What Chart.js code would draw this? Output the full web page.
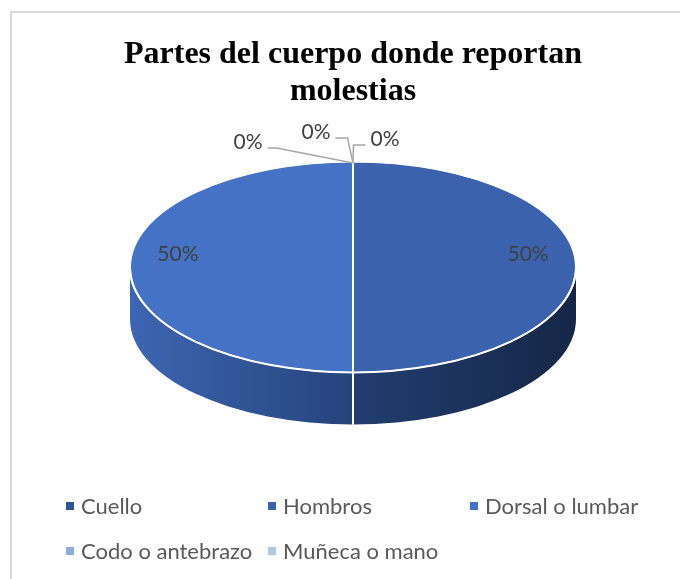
<!DOCTYPE html>
<html><head><meta charset="utf-8">
<script src="https://cdn.jsdelivr.net/npm/chart.js@4/dist/chart.umd.min.js"></script>
<style>
html,body{margin:0;padding:0;background:#fff;overflow:hidden;}
#wrap{position:relative;width:680px;height:579px;overflow:hidden;}
#frame{position:absolute;left:10px;top:11px;width:720px;height:620px;border-left:2px solid #d9d9d9;border-top:2px solid #d9d9d9;}
canvas{position:absolute;left:0;top:0;}
#legend{position:absolute;left:66px;top:494px;display:grid;grid-template-columns:202px 202px 210px;row-gap:21px;font-family:Lato,'Liberation Sans',sans-serif;font-size:22px;line-height:24px;color:#595959;}
#legend .it{display:flex;align-items:center;white-space:nowrap;}
#legend .mk{width:8px;height:8px;margin-right:7px;flex:none;}
</style>
</head><body>
<div id="wrap">
<div id="frame"></div>
<canvas id="c" width="680" height="579"></canvas>
<div id="legend"></div>
</div>
<script>
// ---- data ----
const TITLE_LINES = ['Partes del cuerpo donde reportan', 'molestias'];
const CATEGORIES = ['Cuello', 'Hombros', 'Dorsal o lumbar', 'Codo o antebrazo', 'Muñeca o mano'];
const VALUES = [0, 50, 50, 0, 0];

// ---- styles ----
const COLORS = ['#2f5597', '#3a62ad', '#4472c4', '#8faadc', '#b4c7e7'];
const SIDE_LEFT = ['#1f3864', '#223d70', '#3d66b2', '#6f8fca', '#9db3da'];
const SIDE_RIGHT = ['#172a4c', '#152747', '#25437b', '#4f6da5', '#7f97c2'];
const RADIUS = 223;
const TILT = 0.472;
const DEPTH = 52;
const LABEL_R = 0.785;
const LABEL_DY = -13;
// zero-value label placement (text centre offset from anchor, elbow length)
const ZERO_POS = {0: [32, -23, 12], 3: [-105, -20, 9], 4: [-37, -30, 12]};

const legendEl = document.getElementById('legend');
CATEGORIES.forEach((c, i) => {
  const d = document.createElement('div'); d.className = 'it';
  const m = document.createElement('span'); m.className = 'mk'; m.style.background = COLORS[i];
  const t = document.createElement('span'); t.textContent = c;
  d.appendChild(m); d.appendChild(t); legendEl.appendChild(d);
});

function pct(v) {
  const tot = VALUES.reduce((a, b) => a + b, 0);
  return Math.round(v / tot * 100) + '%';
}

const pie3d = {
  id: 'pie3d',
  beforeDatasetsDraw(chart) {
    const meta = chart.getDatasetMeta(0);
    const a0 = meta.data[0];
    const R = a0.outerRadius, ox = a0.x, oy = a0.y;
    const ca = chart.chartArea;
    const cx = ox, ry = R * TILT;
    const cy = (ca.top + ca.bottom) / 2 - DEPTH / 2;
    chart.$p3 = {cx, cy, R, ry, ox, oy};
    const ctx = chart.ctx;
    ctx.save();
    meta.data.forEach((arc, i) => {
      [0, -2 * Math.PI].forEach(shift => {
        const s = Math.max(arc.startAngle + shift, 0);
        const e = Math.min(arc.endAngle + shift, Math.PI);
        if (e - s <= 1e-4) return;
        const xl = cx + R * Math.cos(e), xr = cx + R * Math.cos(s);
        const g = ctx.createLinearGradient(xl, 0, xr, 0);
        g.addColorStop(0, SIDE_LEFT[i]); g.addColorStop(1, SIDE_RIGHT[i]);
        ctx.beginPath();
        ctx.ellipse(cx, cy, R, ry, 0, s, e, false);
        ctx.ellipse(cx, cy + DEPTH, R, ry, 0, e, s, true);
        ctx.closePath();
        ctx.fillStyle = g; ctx.fill();
      });
    });
    ctx.restore();
    ctx.save();
    ctx.translate(cx, cy); ctx.scale(1, TILT); ctx.translate(-ox, -oy);
  },
  afterDatasetsDraw(chart) {
    const ctx = chart.ctx;
    ctx.restore();
    const {cx, cy, R, ry} = chart.$p3;
    const meta = chart.getDatasetMeta(0);
    ctx.save();
    // front edge
    ctx.strokeStyle = '#ffffff'; ctx.lineWidth = 2;
    ctx.beginPath(); ctx.ellipse(cx, cy, R, ry, 0, 0, Math.PI); ctx.stroke();
    // side separators
    meta.data.forEach(arc => {
      [arc.startAngle, arc.endAngle].forEach(a => {
        let t = ((a % (2 * Math.PI)) + 2 * Math.PI) % (2 * Math.PI);
        if (t > 1e-3 && t < Math.PI - 1e-3) {
          const x = cx + R * Math.cos(t), y = cy + ry * Math.sin(t);
          ctx.beginPath(); ctx.moveTo(x, y); ctx.lineTo(x, y + DEPTH); ctx.stroke();
        }
      });
    });
    // labels
    ctx.font = '21px Lato, "Liberation Sans", sans-serif';
    ctx.fillStyle = '#404040';
    ctx.textAlign = 'center'; ctx.textBaseline = 'middle';
    meta.data.forEach((arc, i) => {
      const v = VALUES[i];
      if (v > 0) {
        const mid = (arc.startAngle + arc.endAngle) / 2;
        ctx.fillText(pct(v), cx + R * LABEL_R * Math.cos(mid), cy + ry * LABEL_R * Math.sin(mid) + LABEL_DY);
      } else if (ZERO_POS[i]) {
        const ax = cx + R * Math.cos(arc.startAngle), ay = cy + ry * Math.sin(arc.startAngle);
        const [dx, dy, el] = ZERO_POS[i];
        const tx = ax + dx, ty = ay + dy;
        const txt = pct(v);
        const w = ctx.measureText(txt).width;
        ctx.fillText(txt, tx, ty);
        const dir = dx > 0 ? -1 : 1;
        const sx = tx + (dx > 0 ? -w / 2 - 5 : w / 2 + 5);
        const sy = ty + 6;
        ctx.strokeStyle = '#a6a6a6'; ctx.lineWidth = 1.5;
        ctx.beginPath(); ctx.moveTo(sx, sy); ctx.lineTo(sx + dir * el, sy); ctx.lineTo(ax, ay + 1); ctx.stroke();
      }
    });
    ctx.restore();
  }
};

new Chart(document.getElementById('c'), {
  type: 'pie',
  data: {
    labels: CATEGORIES,
    datasets: [{
      data: VALUES,
      backgroundColor: COLORS,
      borderColor: '#ffffff',
      borderWidth: 2,
      radius: RADIUS,
      clip: false
    }]
  },
  options: {
    responsive: false,
    animation: false,
    events: [],
    radius: RADIUS,
    layout: {padding: {left: 26, top: 27, bottom: 112}},
    plugins: {
      legend: {display: false},
      tooltip: {enabled: false},
      title: {
        display: true,
        text: TITLE_LINES,
        color: '#000000',
        font: {family: '"Liberation Serif", "Times New Roman", serif', size: 32, weight: 'bold', lineHeight: 1.13},
        padding: {top: 10, bottom: 10}
      }
    }
  },
  plugins: [pie3d]
});
</script>
</body></html>
